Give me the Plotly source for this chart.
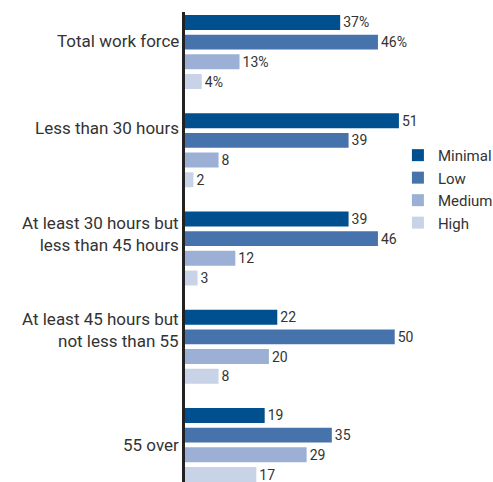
import plotly.graph_objects as go

categories = ["Total work force", "Less than 30 hours",
              "At least 30 hours but<br>less than 45 hours",
              "At least 45 hours but<br>not less than 55", "55 over"]
series_names = ["Minimal", "Low", "Medium", "High"]
minimal = [37, 51, 39, 22, 19]
low = [46, 39, 46, 50, 35]
medium = [13, 8, 12, 20, 29]
high = [4, 2, 3, 8, 17]
values = [minimal, low, medium, high]
colors = ["#00508f", "#4673ab", "#9bb0d4", "#c9d3e8"]
label_pos = [-0.112, 0.774, 1.857, 2.83, 4.005]

FONT = "Roboto, Liberation Sans, Arial, sans-serif"

fig = go.Figure()
for name, vals, col in zip(series_names, values, colors):
    txt = [f"{v}%" if i == 0 else f"{v}" for i, v in enumerate(vals)]
    fig.add_trace(go.Bar(
        y=categories, x=vals, name=name, orientation="h",
        marker=dict(color=col, line=dict(width=0)),
        text=txt, textposition="outside", cliponaxis=False,
        constraintext="none",
        textfont=dict(family=FONT, size=14, color="#333333"),
        hoverinfo="skip",
    ))

for cat, yp in zip(categories, label_pos):
    fig.add_annotation(
        x=0, xref="paper", xanchor="right", xshift=-4,
        y=yp, yref="y", yanchor="middle",
        text=cat, showarrow=False, align="right",
        font=dict(family=FONT, size=17, color="#333333"),
    )

fig.update_layout(
    width=493, height=482,
    margin=dict(l=185, r=6, t=12, b=0, autoexpand=False),
    paper_bgcolor="white", plot_bgcolor="white",
    barmode="group", bargap=0.198, bargroupgap=0.24,
    showlegend=True,
    legend=dict(
        x=0.705, y=0.73, xanchor="left", yanchor="top",
        traceorder="normal",
        font=dict(family=FONT, size=15, color="#333333"),
        bgcolor="rgba(0,0,0,0)", itemwidth=30, tracegroupgap=0,
    ),
    xaxis=dict(range=[0, 72], showgrid=False, zeroline=False,
               showticklabels=False, showline=False, ticks=""),
    yaxis=dict(range=[4.377, -0.407], showgrid=False, zeroline=False,
               showticklabels=False, ticks="", showline=True,
               linecolor="#222222", linewidth=3),
)

fig.write_html("out.html")
